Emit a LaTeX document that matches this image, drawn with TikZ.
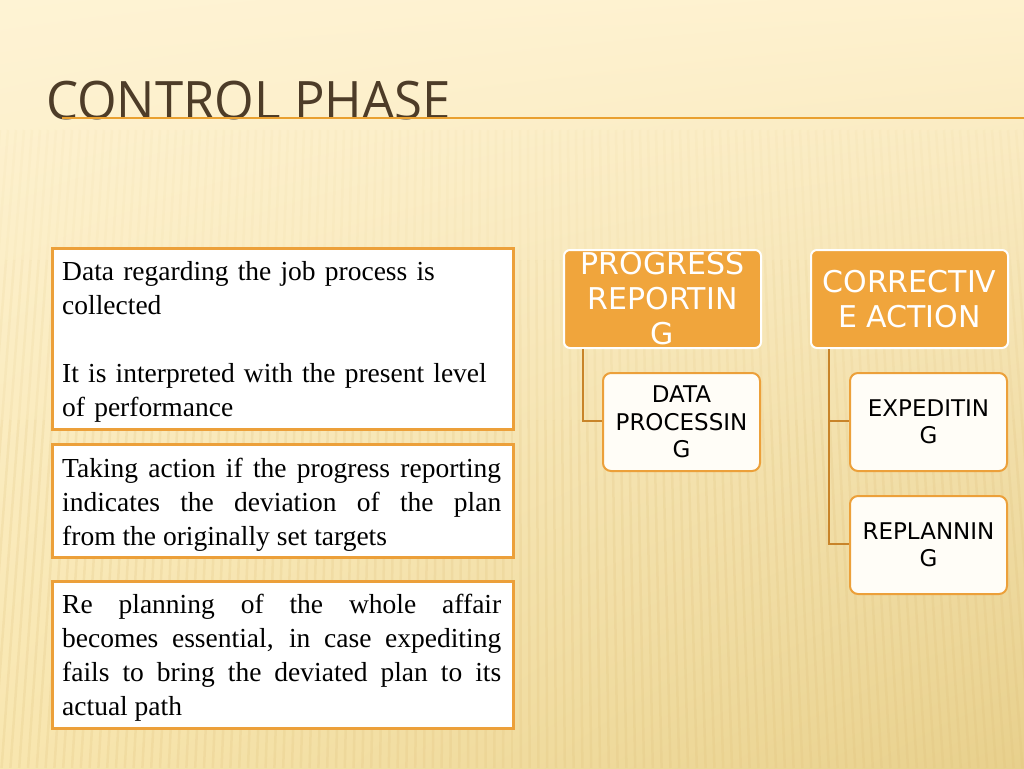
\documentclass[tikz,border=0pt]{standalone}
\usepackage{fontspec}
\setmainfont{Liberation Serif}
\newfontfamily\uisans{Open Sans}
\newfontfamily\nodesans{DejaVu Sans}
\usetikzlibrary{calc,shadings}
\definecolor{bgUL}{RGB}{254,243,212}
\definecolor{bgUR}{RGB}{254,241,206}
\definecolor{bgLL}{RGB}{248,230,175}
\definecolor{bgLR}{RGB}{232,208,140}
\definecolor{stripe}{RGB}{222,190,120}
\definecolor{titlecol}{RGB}{77,60,40}
\definecolor{rule}{RGB}{233,160,48}
\definecolor{boxline}{RGB}{236,160,58}
\definecolor{parentfill}{RGB}{240,165,60}
\definecolor{childfill}{RGB}{255,253,247}
\definecolor{connector}{RGB}{200,132,42}
\tikzset{
  txtbox/.style={draw=boxline, line width=2.5pt, fill=white, anchor=north west, inner sep=0pt, minimum width=461pt},
  boxtext/.style={anchor=north west, inner sep=0pt, text width=439pt, font=\fontsize{27.5}{34}\selectfont},
  parentnode/.style={draw=white, line width=2pt, fill=parentfill, rounded corners=6pt, minimum width=197pt, minimum height=98pt, inner sep=0pt, text=white, align=center, font=\nodesans\fontsize{30}{35}\selectfont, anchor=north west},
  childnode/.style={draw=boxline, line width=2pt, fill=childfill, rounded corners=8pt, minimum width=157pt, minimum height=98pt, inner sep=0pt, text=black, align=center, font=\nodesans\fontsize{23}{27.5}\selectfont, anchor=north west},
  link/.style={draw=connector, line width=2pt}
}
\begin{document}
\begin{tikzpicture}[x=1pt,y=-1pt]
\useasboundingbox (0,0) rectangle (1024,768);
% background
\shade[upper left=bgUL, upper right=bgUR, lower left=bgLL, lower right=bgLR] (0,0) rectangle (1024,768);
\foreach \i in {0,...,130}{
  \pgfmathsetmacro{\xa}{\i*8}
  \pgfmathsetmacro{\dx}{(\i*8-512)*0.1}
  \draw[stripe, opacity=0.06, line width=2.5pt] (\xa,130) -- ({\xa+\dx*0.2},260);
  \draw[stripe, opacity=0.12, line width=2.5pt] ({\xa+\dx*0.2},260) -- ({\xa+\dx*0.45},420);
  \draw[stripe, opacity=0.2, line width=2.5pt] ({\xa+\dx*0.45},420) -- ({\xa+\dx},768);
}
% title
\node (title) [anchor=base west, inner sep=0pt, text=titlecol, font=\uisans\fontsize{53}{60}\selectfont] at (46,119) {\scalebox{0.96}[1]{CONTROL PHASE}};
\coordinate (rulestart) at (62,118);
\coordinate (ruleend) at (1024,118);
\draw[rule, line width=2pt] (rulestart) -- (ruleend);
% left text boxes
\node (b1) [txtbox, minimum height=181pt] at (51,247) {};
\node (t1) [boxtext, align=left] at (62,261) {Data regarding the job process is\\collected\\[34pt]It is interpreted with the present level\\of performance};
\node (b2) [txtbox, minimum height=113pt] at (51,443) {};
\node (t2) [boxtext, align=justify] at (62,458) {Taking action if the progress reporting\linebreak indicates the deviation of the plan\linebreak from the originally set targets};
\node (b3) [txtbox, minimum height=147pt] at (51,580) {};
\node (t3) [boxtext, align=justify] at (62,594) {Re planning of the whole affair\linebreak becomes essential, in case expediting\linebreak fails to bring the deviated plan to its\linebreak actual path};
% right hierarchy
\node (pr) [parentnode] at (563,249) {PROGRESS\\REPORTIN\\G};
\node (ca) [parentnode] at (810,249) {CORRECTIV\\E ACTION};
\draw[link] ($(pr.south west)+(20,0)$) |- (602,421) coordinate (dpin);
\draw[link] ($(ca.south west)+(19,0)$) |- (849,421) coordinate (exin);
\draw[link] ($(ca.south west)+(19,0)$) |- (849,544) coordinate (rpin);
\node (dp) [childnode] at (602,372) {DATA\\PROCESSIN\\G};
\node (ex) [childnode] at (849,372) {EXPEDITIN\\G};
\node (rp) [childnode] at (849,495) {REPLANNIN\\G};
\end{tikzpicture}
\end{document}
